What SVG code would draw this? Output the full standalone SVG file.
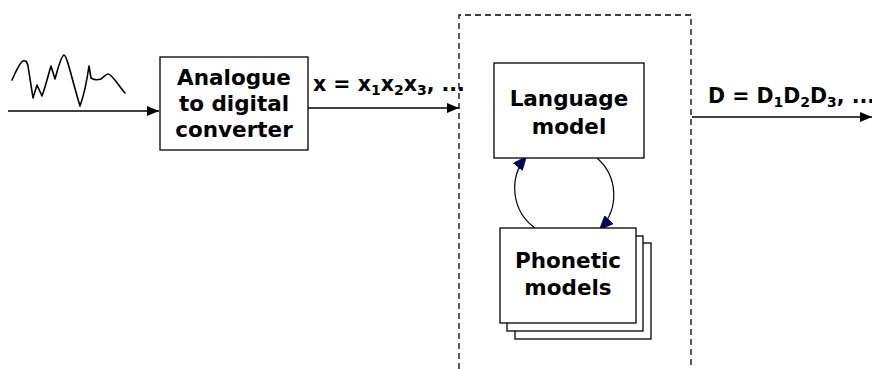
<svg xmlns="http://www.w3.org/2000/svg" width="872" height="369" viewBox="0 0 872 369">
<defs>
<style>
.box{fill:#fff;stroke:#000;stroke-width:1.3}
.ln{fill:none;stroke:#000;stroke-width:1.6}
.arc{fill:none;stroke:#000;stroke-width:1.2}
.t{font-family:"DejaVu Sans",sans-serif;font-weight:bold;font-size:21.5px;fill:#000}
.lb{font-size:20.5px}
.sub{font-size:14px}
</style>
<marker id="ah" viewBox="0 0 12 10" refX="12" refY="5" markerWidth="12" markerHeight="10" markerUnits="userSpaceOnUse" orient="auto">
<path d="M0,0 L12,5 L0,10 Z" fill="#000"/>
</marker>
<marker id="nh" viewBox="0 0 14 12" refX="13" refY="6" markerWidth="14" markerHeight="12" markerUnits="userSpaceOnUse" orient="auto">
<path d="M0,0 L14,6 L0,12 Z" fill="#000066" stroke="#000" stroke-width="0.5"/>
</marker>
</defs>
<rect width="872" height="369" fill="#fff"/>
<g id="waveform">
<path fill="none" stroke="#000" stroke-width="1.6" stroke-linejoin="round" stroke-linecap="round" d="M12,80 C16,71 20,62 23,61 C26,60 27,62 28,66 L33,98 L37,85 L42,96 C46,85 49,72 51,66 L55,79 C58,68 61,56 64,55 C67,55 72,80 80,106 C84,95 87,80 89,66 L91,78 C94,80 98,80 101,79 C104,77 106,74 108,74 C112,74 118,85 125,93"/>
</g>
<g id="boundary">
<path d="M459,369 V15 H691 V369" fill="none" stroke="#000" stroke-width="1.3" stroke-dasharray="6,4"/>
</g>
<g id="connectors">
<line class="ln" x1="8" y1="111" x2="159" y2="111" marker-end="url(#ah)"/>
<line class="ln" x1="308" y1="108" x2="459" y2="108" marker-end="url(#ah)"/>
<line class="ln" x1="692" y1="117" x2="872" y2="117" marker-end="url(#ah)"/>
<path class="arc" d="M535,228 A49,49 0 0 1 526,157" marker-end="url(#nh)"/>
<path class="arc" d="M597,158 A49,49 0 0 1 600,229" marker-end="url(#nh)"/>
</g>
<g id="labels">
<text class="t lb" x="313" y="91">x = x<tspan class="sub" dy="4">1</tspan><tspan dy="-4">x</tspan><tspan class="sub" dy="4">2</tspan><tspan dy="-4">x</tspan><tspan class="sub" dy="4">3</tspan><tspan dy="-4">, ...</tspan></text>
<text class="t lb" x="708" y="103">D = D<tspan class="sub" dy="4">1</tspan><tspan dy="-4">D</tspan><tspan class="sub" dy="4">2</tspan><tspan dy="-4">D</tspan><tspan class="sub" dy="4">3</tspan><tspan dy="-4">, ...</tspan></text>
</g>
<g id="adc">
<rect class="box" x="160" y="57" width="148" height="93"/>
<text class="t" text-anchor="middle" x="234" y="85">Analogue</text>
<text class="t" text-anchor="middle" x="234" y="111">to digital</text>
<text class="t" text-anchor="middle" x="234" y="137">converter</text>
</g>
<g id="language-model">
<rect class="box" x="494" y="63" width="150" height="95"/>
<text class="t" text-anchor="middle" x="569" y="106">Language</text>
<text class="t" text-anchor="middle" x="569" y="134">model</text>
</g>
<g id="phonetic-models">
<rect class="box" x="515" y="243" width="136" height="96"/>
<rect class="box" x="507" y="236" width="136" height="95"/>
<rect class="box" x="500" y="228" width="136" height="95"/>
<text class="t" text-anchor="middle" x="568" y="268">Phonetic</text>
<text class="t" text-anchor="middle" x="568" y="295">models</text>
</g>
</svg>
